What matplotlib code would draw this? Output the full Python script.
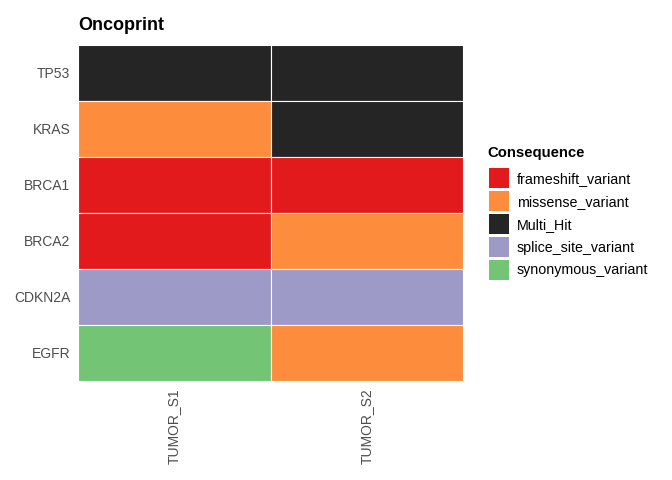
import matplotlib
matplotlib.use("Agg")
import matplotlib.pyplot as plt
from matplotlib.patches import Patch
import numpy as np

plt.rcParams['font.family'] = ['Liberation Sans', 'DejaVu Sans']

genes = ["TP53", "KRAS", "BRCA1", "BRCA2", "CDKN2A", "EGFR"]
samples = ["TUMOR_S1", "TUMOR_S2"]
consequences = ["frameshift_variant", "missense_variant", "Multi_Hit",
                "splice_site_variant", "synonymous_variant"]
colors = ["#E31A1C", "#FD8D3C", "#252525", "#9E9AC8", "#74C476"]
tumor_s1 = ["Multi_Hit", "missense_variant", "frameshift_variant",
            "frameshift_variant", "splice_site_variant", "synonymous_variant"]
tumor_s2 = ["Multi_Hit", "Multi_Hit", "frameshift_variant",
            "missense_variant", "splice_site_variant", "missense_variant"]

cmap = dict(zip(consequences, colors))

fig = plt.figure(figsize=(6.72, 4.8), dpi=100)
ax = fig.add_axes([78/672, 1-381/480, (463-78)/672, (381-45)/480])

for j, col in enumerate([tumor_s1, tumor_s2]):
    for i, c in enumerate(col):
        ax.bar(j, 1, width=1, bottom=i - 0.5, color=cmap[c],
               edgecolor="white", linewidth=0.8)

ax.set_xlim(-0.5, 1.5)
ax.set_ylim(len(genes) - 0.5, -0.5)
ax.set_xticks(range(len(samples)))
ax.set_xticklabels(samples, rotation=90, color="#4D4D4D", fontsize=10)
ax.set_yticks(range(len(genes)))
ax.set_yticklabels(genes, color="#4D4D4D", fontsize=10)
ax.tick_params(axis="y", length=0, pad=5.5)
ax.tick_params(axis="x", length=0, pad=5.5)
for s in ax.spines.values():
    s.set_visible(False)

ax.set_title("Oncoprint", loc="left", fontweight="bold", fontsize=13, pad=11)

fig.text(487/672, 1-153/480, "Consequence", fontweight="bold",
         fontsize=10.7, ha="left", va="center")

handles = [Patch(facecolor=cmap[c], edgecolor="none") for c in consequences]
leg = fig.legend(handles, consequences,
                 loc="upper left", bbox_to_anchor=(489/672, 1-168/480),
                 frameon=False, fontsize=10.3, handlelength=1.4, handleheight=1.77,
                 labelspacing=0.21, handletextpad=0.56, borderaxespad=0,
                 borderpad=0)

fig.savefig("out.png", dpi=100)
